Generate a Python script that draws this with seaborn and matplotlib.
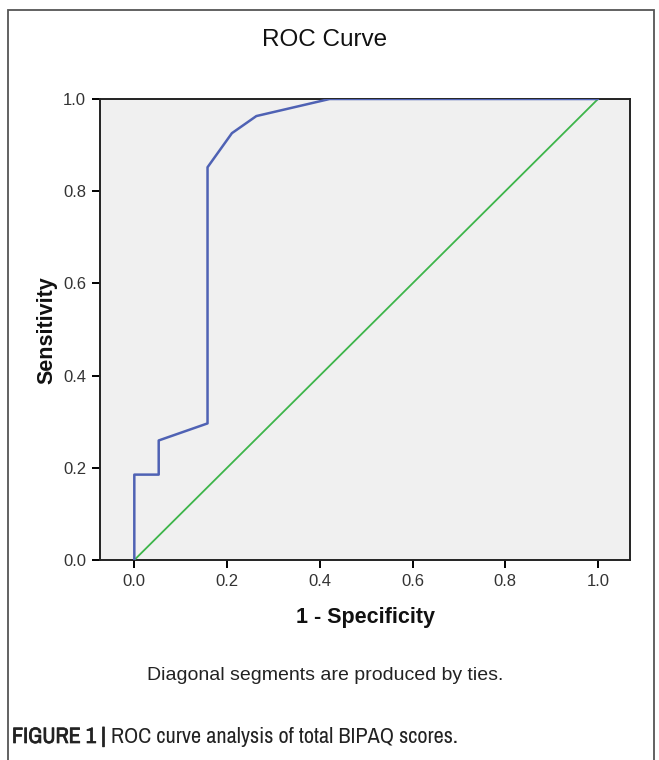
import matplotlib
matplotlib.use("Agg")
import matplotlib.pyplot as plt
from matplotlib import font_manager
import matplotlib.patheffects as pe
import seaborn as sns
import pandas as pd
from matplotlib.patches import Rectangle

# ROC curve data (1 - specificity, sensitivity)
fpr = [0.0, 0.0, 0.0526, 0.0526, 0.1579, 0.1579, 0.2105, 0.2632, 0.4211, 1.0]
tpr = [0.0, 0.1852, 0.1852, 0.2593, 0.2963, 0.8519, 0.9259, 0.9630, 1.0, 1.0]
ref_x = [0.0, 1.0]
ref_y = [0.0, 1.0]
xticks = [0.0, 0.2, 0.4, 0.6, 0.8, 1.0]
yticks = [0.0, 0.2, 0.4, 0.6, 0.8, 1.0]

sns.set_style("white")
plt.rcParams['font.family'] = ['Liberation Sans', 'DejaVu Sans']

# look for a condensed face for the caption
narrow_kw = {}
for f in font_manager.fontManager.ttflist:
    if 'Narrow' in f.name:
        narrow_kw = {"family": [f.name, 'Liberation Sans', 'DejaVu Sans']}
        break

W, H = 659, 760
fig = plt.figure(figsize=(W / 100, H / 100), dpi=100)
ax = fig.add_axes([100 / W, 1 - 560 / H, 530 / W, 461 / H])
ax.set_facecolor("#F0F0F0")

roc = pd.DataFrame({"x": fpr, "y": tpr})
ref = pd.DataFrame({"x": ref_x, "y": ref_y})
sns.lineplot(data=ref, x="x", y="y", sort=False, estimator=None, color="#3DB54A",
             lw=1.3, ax=ax, zorder=3)
sns.lineplot(data=roc, x="x", y="y", sort=False, estimator=None, color="#4F62B4",
             lw=1.8, ax=ax, zorder=4)

ax.set_xlim(-0.074, 1.069)
ax.set_ylim(0, 1)
ax.set_xticks(xticks)
ax.set_yticks(yticks)
ax.set_xticklabels([f"{v:.1f}" for v in xticks], fontsize=12, color="#333333")
ax.set_yticklabels([f"{v:.1f}" for v in yticks], fontsize=12, color="#333333")
ax.tick_params(axis="both", direction="out", length=6, width=1.4, color="black",
               bottom=True, left=True, pad=4)
for s in ax.spines.values():
    s.set_color("#222222")
    s.set_linewidth(1.4)
    s.set_visible(True)
ax.set_xlabel("")
ax.set_ylabel("")

fig.text(325 / W, 1 - 40 / H, "ROC Curve", ha="center", va="center", fontsize=17.5,
         color="#111111")
fig.text(365 / W, 1 - 618 / H, "1 - Specificity", ha="center", va="center",
         fontsize=15.5, fontweight="bold", color="#111111")
fig.text(47 / W, 1 - 330 / H, "Sensitivity", ha="center", va="center",
         fontsize=15.5, fontweight="bold", rotation=90, color="#111111")
fig.text(325 / W, 1 - 675 / H, "Diagonal segments are produced by ties.",
         ha="center", va="center", fontsize=14, color="#222222")
t1 = fig.text(12 / W, 1 - 737 / H, "FIGURE 1 | ", ha="left", va="center",
              fontsize=16, fontweight="bold", color="#222222",
              path_effects=[pe.withStroke(linewidth=0.5, foreground="#222222")],
              **narrow_kw)
fig.canvas.draw()
bb = t1.get_window_extent()
fig.text(bb.x1 / W, 1 - 737 / H, "ROC curve analysis of total BIPAQ scores.",
         ha="left", va="center", fontsize=16, color="#222222", **narrow_kw)

fig.patches.append(Rectangle((8 / W, -0.01), 646 / W, 1 - 10 / H + 0.01,
                             transform=fig.transFigure, fill=False,
                             edgecolor="#555555", lw=1.3))

fig.savefig("out.png", dpi=100)
